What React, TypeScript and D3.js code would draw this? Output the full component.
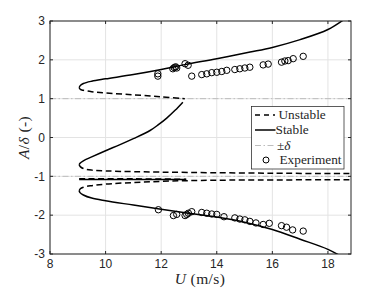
import React from "react";
import * as d3 from "d3";

type P = [number, number];

const xTicks = [8, 10, 12, 14, 16, 18];
const yTicks = [-3, -2, -1, 0, 1, 2, 3];

const upperStable: P[] = [[9.05,1.28],[9.08,1.33],[9.2,1.39],[9.5,1.45],[10,1.51],[11,1.62],[12,1.75],[12.8,1.87],[14,2.03],[15.2,2.2],[16,2.32],[17,2.52],[18,2.78],[18.6,3.05]];
const upperUnstable: P[] = [[9.05,1.28],[9.09,1.24],[9.2,1.215],[9.5,1.18],[10,1.145],[11,1.10],[12,1.045],[12.85,1.0]];
const middleStable: P[] = [[12.78,0.91],[12.5,0.70],[12.2,0.50],[11.9,0.33],[11.6,0.18],[11.0,-0.03],[10.5,-0.19],[10.0,-0.34],[9.5,-0.50],[9.2,-0.60],[9.08,-0.66],[9.05,-0.70]];
const middleUnstable: P[] = [[9.05,-0.70],[9.09,-0.75],[9.2,-0.80],[9.5,-0.84],[10,-0.86],[11,-0.88],[13,-0.9],[16,-0.92],[18.9,-0.93]];
const nearSolid: P[] = [[9.05,-1.08],[12.9,-1.08]];
const nearUnstable: P[] = [[9.05,-1.06],[11,-1.065],[12.9,-1.075]];
const lowerUnstable: P[] = [[9.05,-1.37],[9.09,-1.32],[9.2,-1.28],[9.5,-1.24],[10,-1.2],[11,-1.16],[12,-1.13],[13,-1.11],[15,-1.095],[18.9,-1.09]];
const lowerStable: P[] = [[9.05,-1.37],[9.08,-1.42],[9.2,-1.48],[9.5,-1.56],[10,-1.63],[11,-1.74],[12,-1.85],[13,-1.95],[14,-2.05],[15,-2.18],[16,-2.37],[17,-2.62],[18,-2.88],[18.45,-3.05]];

const expUpperU = [11.88,11.88,12.42,12.47,12.52,12.56,12.86,12.97,13.1,13.46,13.64,13.82,14.0,14.18,14.36,14.65,14.83,15.01,15.19,15.67,15.85,16.33,16.45,16.57,16.75,17.11];
const expUpperA = [1.64,1.58,1.77,1.80,1.82,1.79,1.90,1.86,1.58,1.62,1.64,1.67,1.68,1.70,1.73,1.75,1.77,1.79,1.81,1.87,1.89,1.94,1.97,1.98,2.03,2.09];
const expLowerU = [11.9,12.44,12.56,12.86,12.92,12.98,13.1,13.46,13.64,13.82,14.0,14.26,14.65,14.83,15.01,15.19,15.41,15.67,15.89,16.33,16.51,16.73,17.11];
const expLowerA = [-1.86,-2.01,-1.98,-2.01,-1.98,-1.95,-1.91,-1.93,-1.95,-1.97,-1.98,-2.04,-2.07,-2.10,-2.12,-2.16,-2.20,-2.24,-2.21,-2.27,-2.31,-2.38,-2.41];

const deltaLevels = [1, -1];

const W = 388, H = 291;
const L = 50, R = 351, T = 21, B = 254;
const AX = "#262626";
const SERIF = "'Liberation Serif', 'DejaVu Serif', serif";
const SANS = "'Liberation Sans', Arial, sans-serif";

export default function App() {
  const x = d3.scaleLinear().domain([8, 18.83]).range([L, R]);
  const y = d3.scaleLinear().domain([-3, 3]).range([B, T]);
  const line = d3.line<P>().x(d => x(d[0])).y(d => y(d[1])).curve(d3.curveCatmullRom.alpha(0.5));

  const solid = [upperStable, middleStable, nearSolid, lowerStable];
  const dashed = [upperUnstable, middleUnstable, nearUnstable, lowerUnstable];
  const dash = "6,3.5";

  const legX = 251.5, legY = 106.5, legW = 92.5, legH = 62.5;
  const rows = [115, 130, 145.5, 160];

  return (
    <svg width={W} height={H} style={{ position: "fixed", left: 0, top: 0, background: "#fff" }}>
      <rect x={0} y={0} width={W} height={H} fill="#fff" />
      <defs>
        <clipPath id="plot"><rect x={L} y={T} width={R - L} height={B - T} /></clipPath>
      </defs>
      {xTicks.map(t => <line key={"gx" + t} x1={x(t)} x2={x(t)} y1={T} y2={B} stroke="#e3e3e3" strokeWidth={1} />)}
      {yTicks.map(t => <line key={"gy" + t} x1={L} x2={R} y1={y(t)} y2={y(t)} stroke="#e3e3e3" strokeWidth={1} />)}
      <g clipPath="url(#plot)">
        {deltaLevels.map(v => <line key={"d" + v} x1={L} x2={R} y1={y(v)} y2={y(v)} stroke="#bdbdbd" strokeWidth={1} strokeDasharray="6,2.5,1.5,2.5" />)}
        {dashed.map((d, i) => <path key={"u" + i} d={line(d) || ""} fill="none" stroke="#000" strokeWidth={1.5} strokeDasharray={dash} />)}
        {solid.map((d, i) => <path key={"s" + i} d={line(d) || ""} fill="none" stroke="#000" strokeWidth={1.5} />)}
        {expUpperU.map((u, i) => <circle key={"eu" + i} cx={x(u)} cy={y(expUpperA[i])} r={3.2} fill="none" stroke="#000" strokeWidth={1} />)}
        {expLowerU.map((u, i) => <circle key={"el" + i} cx={x(u)} cy={y(expLowerA[i])} r={3.2} fill="none" stroke="#000" strokeWidth={1} />)}
      </g>
      <rect x={L} y={T} width={R - L} height={B - T} fill="none" stroke={AX} strokeWidth={1} />
      {xTicks.map(t => (
        <g key={"tx" + t}>
          <line x1={x(t)} x2={x(t)} y1={B} y2={B - 3} stroke={AX} />
          <line x1={x(t)} x2={x(t)} y1={T} y2={T + 3} stroke={AX} />
          <text x={x(t)} y={268} textAnchor="middle" fontFamily={SANS} fontSize={12} fill={AX}>{t}</text>
        </g>
      ))}
      {yTicks.map(t => (
        <g key={"ty" + t}>
          <line x1={L} x2={L + 3} y1={y(t)} y2={y(t)} stroke={AX} />
          <line x1={R} x2={R - 3} y1={y(t)} y2={y(t)} stroke={AX} />
          <text x={45} y={y(t) + 4.2} textAnchor="end" fontFamily={SANS} fontSize={12} fill={AX}>{t}</text>
        </g>
      ))}
      <text x={200} y={283.5} textAnchor="middle" fontFamily={SERIF} fontSize={15.5} letterSpacing={0.4} fill={AX}>
        <tspan fontStyle="italic">U</tspan> (m/s)
      </text>
      <text transform={`translate(28.5,${(T + B) / 2}) rotate(-90)`} textAnchor="middle" fontFamily={SERIF} fontSize={15.5} letterSpacing={0.4} fill={AX}>
        <tspan fontStyle="italic">A</tspan>/<tspan fontStyle="italic">δ</tspan> (-)
      </text>
      <rect x={legX} y={legY} width={legW} height={legH} fill="#fff" stroke={AX} strokeWidth={0.75} />
      <line x1={255} x2={275} y1={rows[0]} y2={rows[0]} stroke="#000" strokeWidth={1.5} strokeDasharray="5,4" />
      <line x1={255} x2={275.5} y1={rows[1]} y2={rows[1]} stroke="#000" strokeWidth={1.5} />
      <line x1={255} x2={275} y1={rows[2]} y2={rows[2]} stroke="#bdbdbd" strokeWidth={1} strokeDasharray="6,2.5,1.5,2.5" />
      <circle cx={266} cy={rows[3]} r={3} fill="none" stroke="#000" strokeWidth={1} />
      <g fontFamily={SERIF} fontSize={13.3} fill={AX}>
        <text x={278.5} y={rows[0] + 4.4}>Unstable</text>
        <text x={275.5} y={rows[1] + 4.4}>Stable</text>
        <text x={277} y={rows[2] + 4.4}>±<tspan fontStyle="italic">δ</tspan></text>
        <text x={279.5} y={rows[3] + 4.4}>Experiment</text>
      </g>
    </svg>
  );
}
